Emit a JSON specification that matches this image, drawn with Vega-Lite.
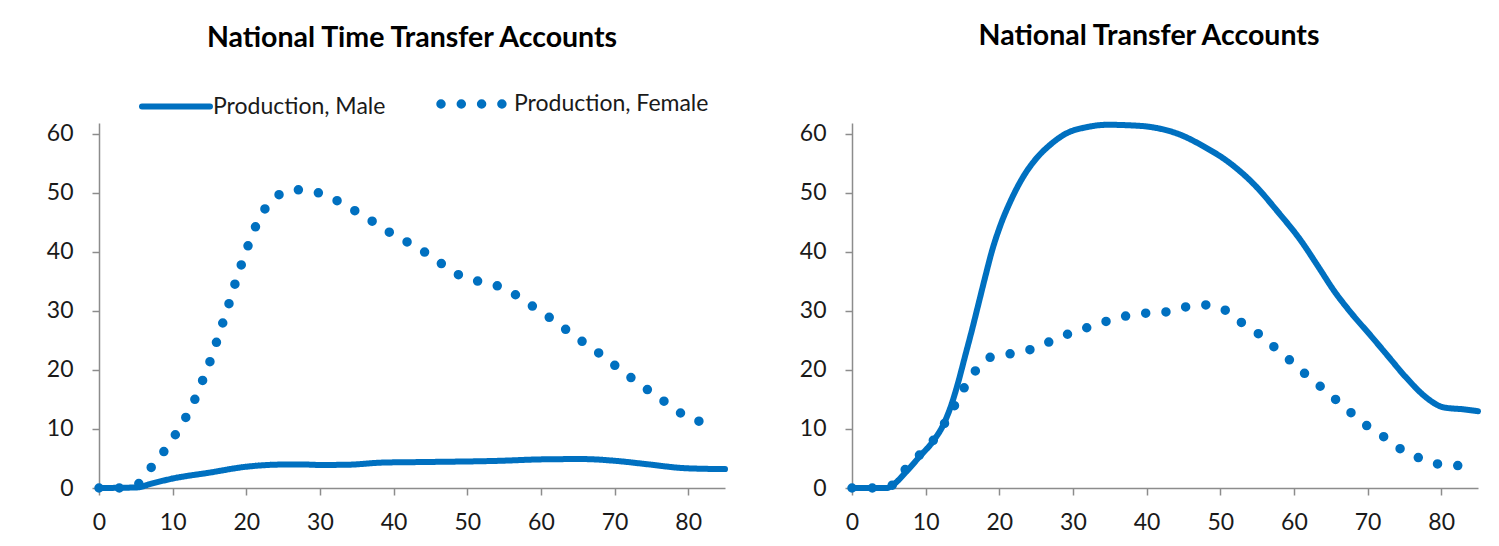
{
  "$schema": "https://vega.github.io/schema/vega-lite/v6.json",
  "background": "white",
  "padding": {"left": 46, "top": 22, "right": 5, "bottom": 5},
  "datasets": {
    "ntta": [
      {"age": 0, "value": 0, "series": "Production, Male"},
      {"age": 5.2, "value": 0.1, "series": "Production, Male"},
      {"age": 7, "value": 0.7, "series": "Production, Male"},
      {"age": 10, "value": 1.6, "series": "Production, Male"},
      {"age": 15, "value": 2.6, "series": "Production, Male"},
      {"age": 20, "value": 3.6, "series": "Production, Male"},
      {"age": 24, "value": 3.95, "series": "Production, Male"},
      {"age": 27.3, "value": 4.0, "series": "Production, Male"},
      {"age": 30, "value": 3.9, "series": "Production, Male"},
      {"age": 34, "value": 3.95, "series": "Production, Male"},
      {"age": 38.4, "value": 4.3, "series": "Production, Male"},
      {"age": 44.3, "value": 4.4, "series": "Production, Male"},
      {"age": 54.3, "value": 4.6, "series": "Production, Male"},
      {"age": 60.2, "value": 4.85, "series": "Production, Male"},
      {"age": 65.6, "value": 4.9, "series": "Production, Male"},
      {"age": 70.1, "value": 4.6, "series": "Production, Male"},
      {"age": 74.6, "value": 4.0, "series": "Production, Male"},
      {"age": 79.6, "value": 3.35, "series": "Production, Male"},
      {"age": 85, "value": 3.2, "series": "Production, Male"},
      {"age": 0, "value": 0, "series": "Production, Female"},
      {"age": 2.67, "value": 0, "series": "Production, Female"},
      {"age": 5.2, "value": 0.6, "series": "Production, Female"},
      {"age": 6.9, "value": 3.2, "series": "Production, Female"},
      {"age": 8.65, "value": 5.9, "series": "Production, Female"},
      {"age": 10.2, "value": 8.7, "series": "Production, Female"},
      {"age": 11.65, "value": 11.65, "series": "Production, Female"},
      {"age": 12.9, "value": 14.7, "series": "Production, Female"},
      {"age": 13.95, "value": 17.85, "series": "Production, Female"},
      {"age": 14.95, "value": 21.0, "series": "Production, Female"},
      {"age": 15.85, "value": 24.3, "series": "Production, Female"},
      {"age": 16.7, "value": 27.55, "series": "Production, Female"},
      {"age": 17.55, "value": 30.8, "series": "Production, Female"},
      {"age": 18.35, "value": 34.1, "series": "Production, Female"},
      {"age": 19.2, "value": 37.35, "series": "Production, Female"},
      {"age": 20.1, "value": 40.55, "series": "Production, Female"},
      {"age": 21.1, "value": 43.8, "series": "Production, Female"},
      {"age": 22.35, "value": 46.9, "series": "Production, Female"},
      {"age": 24.1, "value": 49.4, "series": "Production, Female"},
      {"age": 26.7, "value": 50.5, "series": "Production, Female"},
      {"age": 29.4, "value": 50.1, "series": "Production, Female"},
      {"age": 32.0, "value": 48.85, "series": "Production, Female"},
      {"age": 34.4, "value": 47.2, "series": "Production, Female"},
      {"age": 36.8, "value": 45.4, "series": "Production, Female"},
      {"age": 39.1, "value": 43.55, "series": "Production, Female"},
      {"age": 41.5, "value": 41.9, "series": "Production, Female"},
      {"age": 43.9, "value": 40.2, "series": "Production, Female"},
      {"age": 46.2, "value": 38.25, "series": "Production, Female"},
      {"age": 48.5, "value": 36.3, "series": "Production, Female"},
      {"age": 51.1, "value": 35.15, "series": "Production, Female"},
      {"age": 53.8, "value": 34.35, "series": "Production, Female"},
      {"age": 56.3, "value": 32.9, "series": "Production, Female"},
      {"age": 58.6, "value": 31.0, "series": "Production, Female"},
      {"age": 60.9, "value": 29.1, "series": "Production, Female"},
      {"age": 63.1, "value": 27.1, "series": "Production, Female"},
      {"age": 65.35, "value": 25.05, "series": "Production, Female"},
      {"age": 67.6, "value": 23.1, "series": "Production, Female"},
      {"age": 69.8, "value": 21.0, "series": "Production, Female"},
      {"age": 72.0, "value": 18.9, "series": "Production, Female"},
      {"age": 74.2, "value": 16.9, "series": "Production, Female"},
      {"age": 76.5, "value": 14.9, "series": "Production, Female"},
      {"age": 78.7, "value": 12.9, "series": "Production, Female"},
      {"age": 81.1, "value": 11.4, "series": "Production, Female"},
      {"age": 83.85, "value": 11.0, "series": "Production, Female"}
    ],
    "nta": [
      {"age": 0, "value": 0, "series": "Production, Male"},
      {"age": 4.7, "value": 0, "series": "Production, Male"},
      {"age": 5.6, "value": 0.56, "series": "Production, Male"},
      {"age": 7.4, "value": 2.8, "series": "Production, Male"},
      {"age": 9.2, "value": 5.35, "series": "Production, Male"},
      {"age": 11.0, "value": 7.9, "series": "Production, Male"},
      {"age": 12.4, "value": 10.7, "series": "Production, Male"},
      {"age": 13.5, "value": 14.1, "series": "Production, Male"},
      {"age": 14.4, "value": 17.8, "series": "Production, Male"},
      {"age": 15.35, "value": 22.3, "series": "Production, Male"},
      {"age": 16.3, "value": 26.8, "series": "Production, Male"},
      {"age": 17.2, "value": 31.3, "series": "Production, Male"},
      {"age": 18.1, "value": 35.8, "series": "Production, Male"},
      {"age": 19.0, "value": 40.1, "series": "Production, Male"},
      {"age": 20.1, "value": 44.3, "series": "Production, Male"},
      {"age": 21.5, "value": 48.5, "series": "Production, Male"},
      {"age": 23.3, "value": 52.8, "series": "Production, Male"},
      {"age": 25.1, "value": 55.9, "series": "Production, Male"},
      {"age": 26.9, "value": 58.1, "series": "Production, Male"},
      {"age": 29.2, "value": 60.1, "series": "Production, Male"},
      {"age": 31.9, "value": 61.1, "series": "Production, Male"},
      {"age": 34.7, "value": 61.5, "series": "Production, Male"},
      {"age": 37.8, "value": 61.4, "series": "Production, Male"},
      {"age": 40.1, "value": 61.2, "series": "Production, Male"},
      {"age": 44.6, "value": 59.8, "series": "Production, Male"},
      {"age": 47.8, "value": 57.8, "series": "Production, Male"},
      {"age": 51.0, "value": 55.3, "series": "Production, Male"},
      {"age": 54.6, "value": 51.4, "series": "Production, Male"},
      {"age": 57.8, "value": 46.8, "series": "Production, Male"},
      {"age": 61.0, "value": 41.8, "series": "Production, Male"},
      {"age": 63.3, "value": 37.5, "series": "Production, Male"},
      {"age": 65.5, "value": 33.3, "series": "Production, Male"},
      {"age": 67.8, "value": 29.6, "series": "Production, Male"},
      {"age": 70.5, "value": 25.7, "series": "Production, Male"},
      {"age": 72.8, "value": 22.3, "series": "Production, Male"},
      {"age": 75.1, "value": 18.9, "series": "Production, Male"},
      {"age": 77.8, "value": 15.5, "series": "Production, Male"},
      {"age": 79.4, "value": 14.1, "series": "Production, Male"},
      {"age": 80.3, "value": 13.65, "series": "Production, Male"},
      {"age": 83.2, "value": 13.3, "series": "Production, Male"},
      {"age": 85, "value": 13.0, "series": "Production, Male"},
      {"age": 0, "value": 0, "series": "Production, Female"},
      {"age": 2.8, "value": 0, "series": "Production, Female"},
      {"age": 5.4, "value": 0.45, "series": "Production, Female"},
      {"age": 7.2, "value": 3.1, "series": "Production, Female"},
      {"age": 9.1, "value": 5.5, "series": "Production, Female"},
      {"age": 11.0, "value": 8.0, "series": "Production, Female"},
      {"age": 12.5, "value": 10.8, "series": "Production, Female"},
      {"age": 13.9, "value": 13.9, "series": "Production, Female"},
      {"age": 15.2, "value": 16.9, "series": "Production, Female"},
      {"age": 16.7, "value": 19.75, "series": "Production, Female"},
      {"age": 18.7, "value": 22.1, "series": "Production, Female"},
      {"age": 21.4, "value": 22.7, "series": "Production, Female"},
      {"age": 24.1, "value": 23.4, "series": "Production, Female"},
      {"age": 26.7, "value": 24.7, "series": "Production, Female"},
      {"age": 29.2, "value": 26.0, "series": "Production, Female"},
      {"age": 31.8, "value": 27.1, "series": "Production, Female"},
      {"age": 34.5, "value": 28.2, "series": "Production, Female"},
      {"age": 37.1, "value": 29.1, "series": "Production, Female"},
      {"age": 39.9, "value": 29.6, "series": "Production, Female"},
      {"age": 42.6, "value": 29.8, "series": "Production, Female"},
      {"age": 45.3, "value": 30.65, "series": "Production, Female"},
      {"age": 48.05, "value": 31.0, "series": "Production, Female"},
      {"age": 50.7, "value": 30.1, "series": "Production, Female"},
      {"age": 52.9, "value": 28.0, "series": "Production, Female"},
      {"age": 55.2, "value": 26.1, "series": "Production, Female"},
      {"age": 57.3, "value": 23.9, "series": "Production, Female"},
      {"age": 59.4, "value": 21.7, "series": "Production, Female"},
      {"age": 61.5, "value": 19.35, "series": "Production, Female"},
      {"age": 63.6, "value": 17.2, "series": "Production, Female"},
      {"age": 65.7, "value": 14.95, "series": "Production, Female"},
      {"age": 67.8, "value": 12.7, "series": "Production, Female"},
      {"age": 69.9, "value": 10.55, "series": "Production, Female"},
      {"age": 72.3, "value": 8.6, "series": "Production, Female"},
      {"age": 74.5, "value": 6.6, "series": "Production, Female"},
      {"age": 77.0, "value": 5.1, "series": "Production, Female"},
      {"age": 79.6, "value": 4.05, "series": "Production, Female"},
      {"age": 82.4, "value": 3.8, "series": "Production, Female"}
    ]
  },
  "spacing": 71,
  "hconcat": [
    {
      "title": {"text": "National Time Transfer Accounts", "offset": 13},
      "width": 626,
      "height": 365,
      "data": {"name": "ntta"},
      "mark": {"type": "line", "color": "#0070C0", "strokeCap": "round", "strokeJoin": "round", "interpolate": "monotone"},
      "encoding": {
        "x": {"field": "age", "type": "quantitative", "scale": {"domain": [0, 85], "nice": false}, "axis": {"values": [0, 10, 20, 30, 40, 50, 60, 70, 80], "title": null}},
        "y": {"field": "value", "type": "quantitative", "scale": {"domain": [0, 61.8], "nice": false}, "axis": {"values": [0, 10, 20, 30, 40, 50, 60], "title": null}},
        "strokeDash": {
          "field": "series", "type": "nominal",
          "scale": {"domain": ["Production, Male", "Production, Female"], "range": [[1, 0], [0, 20.3]]},
          "legend": {
            "orient": "none", "legendX": 40, "legendY": -58, "direction": "horizontal", "title": null,
            "symbolType": "stroke", "symbolSize": 4624, "symbolStrokeColor": "#0070C0", "symbolStrokeWidth": 6,
            "labelFontSize": 23, "labelFont": "Lato", "labelColor": "#1a1a1a", "labelOffset": 0, "labelLimit": 400, "columnPadding": 36,
            "encode": {"symbols": {"update": {"strokeCap": {"value": "round"}, "strokeWidth": {"signal": "datum.value === 'Production, Male' ? 6 : 9.5"}}}}
          }
        },
        "strokeWidth": {"field": "series", "type": "nominal", "scale": {"domain": ["Production, Male", "Production, Female"], "range": [6, 9.5]}, "legend": null}
      }
    },
    {
      "title": {"text": "National Transfer Accounts", "dx": -16, "offset": 71},
      "width": 626,
      "height": 365,
      "data": {"name": "nta"},
      "mark": {"type": "line", "color": "#0070C0", "strokeCap": "round", "strokeJoin": "round", "interpolate": "monotone"},
      "encoding": {
        "x": {"field": "age", "type": "quantitative", "scale": {"domain": [0, 85], "nice": false}, "axis": {"values": [0, 10, 20, 30, 40, 50, 60, 70, 80], "title": null}},
        "y": {"field": "value", "type": "quantitative", "scale": {"domain": [0, 61.8], "nice": false}, "axis": {"values": [0, 10, 20, 30, 40, 50, 60], "title": null}},
        "strokeDash": {
          "field": "series", "type": "nominal",
          "scale": {"domain": ["Production, Male", "Production, Female"], "range": [[1, 0], [0, 20.3]]},
          "legend": null
        },
        "strokeWidth": {"field": "series", "type": "nominal", "scale": {"domain": ["Production, Male", "Production, Female"], "range": [6, 9.5]}, "legend": null}
      }
    }
  ],
  "resolve": {"legend": {"strokeDash": "independent", "strokeWidth": "independent"}},
  "config": {
    "view": {"stroke": null},
    "title": {"font": "Lato", "fontSize": 28.5, "fontWeight": "bold", "color": "#000000", "anchor": "middle"},
    "axis": {
      "grid": false, "domainColor": "#8c8c8c", "domainWidth": 1.5, "tickColor": "#8c8c8c", "tickWidth": 1.5, "tickSize": 7,
      "labelFont": "Lato", "labelFontSize": 23, "labelColor": "#1a1a1a", "labelPadding": 16, "labelFlush": false
    },
    "axisY": {"labelPadding": 19, "minExtent": 47.7, "maxExtent": 47.7}
  }
}
